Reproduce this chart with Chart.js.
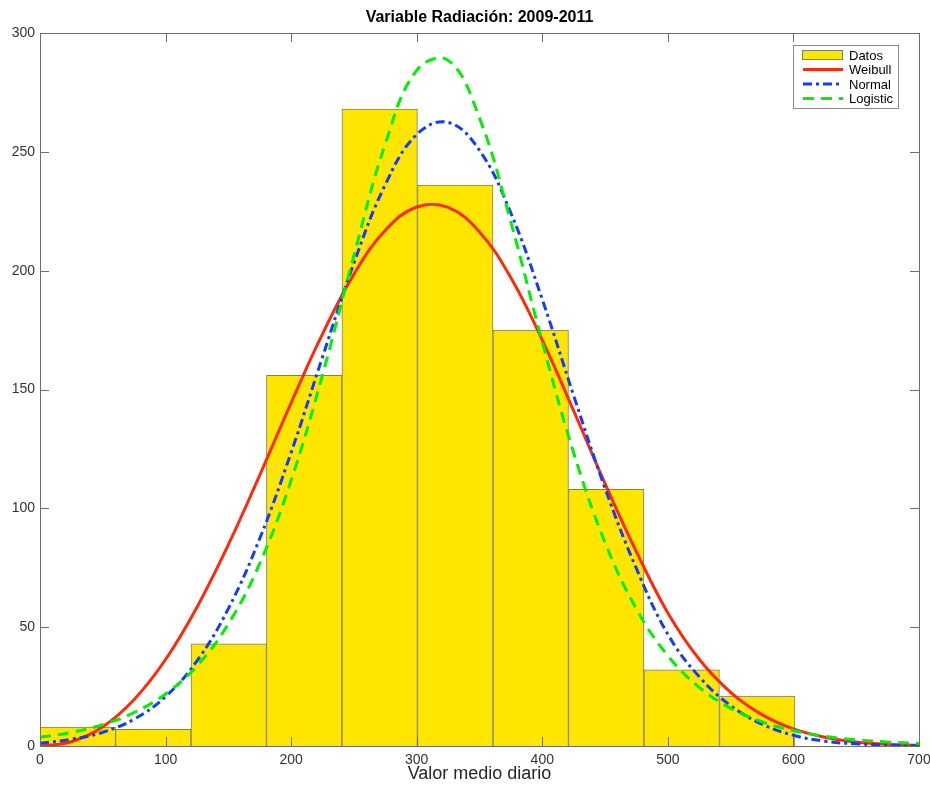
<!DOCTYPE html>
<html>
<head>
<meta charset="utf-8">
<script src="https://cdn.jsdelivr.net/npm/chart.js@4"></script>
<style>
  html, body { margin: 0; padding: 0; background: #fff; }
  #wrap { width: 930px; height: 785px; }
</style>
</head>
<body>
<div id="wrap"><canvas id="histCanvas" width="930" height="785"></canvas></div>
<script>
// histogram bins (centres) and counts
const binCenters = [30.1, 90.2, 150.3, 210.4, 270.5, 330.7, 390.8, 450.9, 511.0, 571.2];
const counts = [8, 7, 43, 156, 268, 236, 175, 108, 32, 21];

// fitted curves, every 25 units
const curveX = [0, 25, 50, 75, 100, 125, 150, 175, 200, 225, 250, 275, 300, 325, 350,
  375, 400, 425, 450, 475, 500, 525, 550, 575, 600, 625, 650, 675, 700];
const weibull = [0, 1.8, 8.1, 19.6, 36.4, 58.4, 84.7, 114.0, 144.4, 173.4, 198.5, 217.0, 226.8, 226.6, 216.3,
  197.0, 170.8, 141.0, 110.4, 81.7, 56.0, 36.5, 22.6, 13.2, 7.2, 3.7, 1.7, 0.7, 0.3];
const normal = [1.2, 2.8, 5.8, 11.3, 20.8, 35.8, 57.8, 87.3, 123.5, 163.7, 203.2, 236.2, 257.3, 262.4, 250.6,
  224.2, 187.9, 147.4, 108.4, 74.6, 47.0, 29.1, 17.0, 9.2, 4.5, 2.0, 0.9, 0.4, 0.1];
const logistic = [3.7, 5.7, 9.0, 14.1, 21.9, 33.7, 51.4, 76.8, 111.8, 156.2, 206.4, 253.4, 284.3, 288.5, 264.2,
  220.4, 169.9, 123.3, 85.6, 57.6, 38.0, 24.7, 15.9, 10.2, 6.5, 4.1, 2.6, 1.7, 1.1];

const xTicks = [0, 100, 200, 300, 400, 500, 600, 700];
const yTicks = [0, 50, 100, 150, 200, 250, 300];

const titleText = 'Variable Radiación: 2009-2011';
const xLabel = 'Valor medio diario';

function pts(ys) {
  return curveX.map((x, i) => ({ x: x, y: ys[i] }));
}

// box, inward ticks, title, x label and legend like the matlab figure
const matlabFrame = {
  id: 'matlabFrame',
  afterDraw(chart) {
    const ctx = chart.ctx;
    const a = chart.chartArea;
    const xs = chart.scales.x, ys = chart.scales.y;
    ctx.save();
    ctx.strokeStyle = '#6e6e6e';
    ctx.lineWidth = 1;
    ctx.beginPath();
    xTicks.forEach(v => {
      const p = Math.round(xs.getPixelForValue(v)) + 0.5;
      ctx.moveTo(p, a.bottom); ctx.lineTo(p, a.bottom - 9);
      ctx.moveTo(p, a.top); ctx.lineTo(p, a.top + 9);
    });
    yTicks.forEach(v => {
      const p = Math.round(ys.getPixelForValue(v)) + 0.5;
      ctx.moveTo(a.left, p); ctx.lineTo(a.left + 9, p);
      ctx.moveTo(a.right, p); ctx.lineTo(a.right - 9, p);
    });
    ctx.stroke();
    ctx.strokeRect(Math.round(a.left) + 0.5, Math.round(a.top) + 0.5,
      Math.round(a.right - a.left), Math.round(a.bottom - a.top));

    ctx.fillStyle = '#000';
    ctx.textAlign = 'center';
    ctx.textBaseline = 'middle';
    ctx.font = 'bold 16px "Liberation Sans", Arial, sans-serif';
    ctx.fillText(titleText, (a.left + a.right) / 2, 18);
    ctx.fillStyle = '#262626';
    ctx.font = '18px "Liberation Sans", Arial, sans-serif';
    ctx.fillText(xLabel, (a.left + a.right) / 2, 774);

    // legend
    const lx = 793, ly = 45, lw = 105, lh = 63;
    ctx.fillStyle = '#fff';
    ctx.fillRect(lx, ly, lw, lh);
    ctx.strokeStyle = '#8a8a8a';
    ctx.strokeRect(lx + 0.5, ly + 0.5, lw, lh);
    ctx.font = '13px "Liberation Sans", Arial, sans-serif';
    ctx.textAlign = 'left';
    chart.data.datasets.forEach((ds, i) => {
      const cy = ly + 10 + i * 14.5;
      if (ds.type === 'bar') {
        ctx.fillStyle = ds.backgroundColor;
        ctx.fillRect(lx + 9, cy - 5, 41, 10);
        ctx.strokeStyle = ds.borderColor;
        ctx.lineWidth = 1;
        ctx.strokeRect(lx + 9.5, cy - 4.5, 40, 9);
      } else {
        ctx.strokeStyle = ds.borderColor;
        ctx.lineWidth = ds.borderWidth;
        ctx.setLineDash(ds.borderDash || []);
        ctx.beginPath();
        ctx.moveTo(lx + 10, cy); ctx.lineTo(lx + 50, cy);
        ctx.stroke();
        ctx.setLineDash([]);
      }
      ctx.fillStyle = '#000';
      ctx.fillText(ds.label, lx + 56, cy + 1);
    });
    ctx.restore();
  }
};

new Chart(document.getElementById('histCanvas'), {
  data: {
    datasets: [
      {
        type: 'bar',
        label: 'Datos',
        data: binCenters.map((x, i) => ({ x: x, y: counts[i] })),
        backgroundColor: '#ffe600',
        borderColor: '#7d7d6a',
        borderWidth: 1,
        barPercentage: 1,
        categoryPercentage: 1,
        order: 4
      },
      {
        type: 'line',
        label: 'Weibull',
        data: pts(weibull),
        borderColor: '#ff2a0a',
        borderWidth: 3,
        pointRadius: 0,
        tension: 0.4,
        fill: false,
        order: 3
      },
      {
        type: 'line',
        label: 'Normal',
        data: pts(normal),
        borderColor: '#143cff',
        borderWidth: 3,
        borderDash: [9, 4, 3, 4],
        pointRadius: 0,
        tension: 0.4,
        fill: false,
        order: 2
      },
      {
        type: 'line',
        label: 'Logistic',
        data: pts(logistic),
        borderColor: '#00f000',
        borderWidth: 3,
        borderDash: [11, 7],
        pointRadius: 0,
        tension: 0.4,
        fill: false,
        order: 1
      }
    ]
  },
  options: {
    responsive: false,
    animation: false,
    layout: { padding: { top: 33, right: 11, left: 0, bottom: 0 } },
    plugins: {
      legend: { display: false },
      title: { display: false },
      tooltip: { enabled: false }
    },
    scales: {
      x: {
        type: 'linear',
        min: 0,
        max: 700,
        offset: false,
        grid: { display: false, drawTicks: false },
        border: { display: false },
        afterBuildTicks: s => { s.ticks = xTicks.map(v => ({ value: v })); },
        afterFit: s => { s.height = 39; s.paddingLeft = 0; s.paddingRight = 0; },
        ticks: {
          padding: 6,
          color: '#333',
          font: { family: '"Liberation Sans", Arial, sans-serif', size: 14 },
          maxRotation: 0
        }
      },
      y: {
        min: 0,
        max: 300,
        grid: { display: false, drawTicks: false },
        border: { display: false },
        afterBuildTicks: s => { s.ticks = yTicks.map(v => ({ value: v })); },
        afterFit: s => { s.width = 40; s.paddingTop = 0; s.paddingBottom = 0; },
        ticks: {
          padding: 5,
          color: '#333',
          font: { family: '"Liberation Sans", Arial, sans-serif', size: 14 }
        }
      }
    }
  },
  plugins: [matlabFrame]
});
</script>
</body>
</html>
